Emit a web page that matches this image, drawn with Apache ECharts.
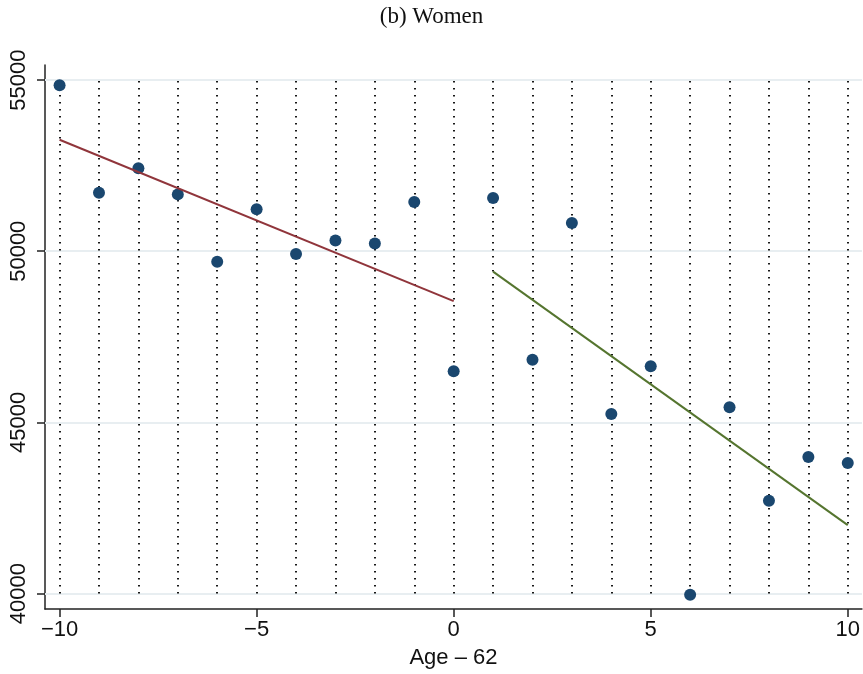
<!DOCTYPE html>
<html>
<head>
<meta charset="utf-8">
<script src="https://cdn.jsdelivr.net/npm/echarts@6/dist/echarts.min.js"></script>
<style>
html,body{margin:0;padding:0;background:#fff;}
#chart{width:863px;height:674px;}
</style>
</head>
<body>
<div id="chart"></div>
<script>
// Data
var ages = [-10,-9,-8,-7,-6,-5,-4,-3,-2,-1,0,1,2,3,4,5,6,7,8,9,10];
var earnings = [54846,51710,52425,51661,49695,51225,49919,50317,50229,51437,46492,51553,46832,50825,45244,46638,39968,45441,42709,43987,43812];
var fitLeftX = [-10, 0];
var fitLeftY = [53258, 48545];
var fitRightX = [1, 10];
var fitRightY = [49405, 42000];
var xTicks = [-10,-5,0,5,10];
var yTicks = [40000,45000,50000,55000];
var refLinesX = ages;
var refRange = [40000, 55000];
var titleText = '(b) Women';
var xTitle = 'Age \u2013 62';

var scatterData = ages.map(function(a,i){return [a, earnings[i]];});
var leftFit = fitLeftX.map(function(a,i){return [a, fitLeftY[i]];});
var rightFit = fitRightX.map(function(a,i){return [a, fitRightY[i]];});
var vlines = refLinesX.map(function(a){return {coords:[[a, refRange[0]],[a, refRange[1]]]};});
var xmin = -10.37, xmax = 10.36;
var hlines = yTicks.map(function(v){return {coords:[[xmin, v],[xmax, v]]};});

var chart = echarts.init(document.getElementById('chart'), null, {renderer:'canvas'});
chart.setOption({
  animation:false,
  backgroundColor:'#ffffff',
  title:{text:titleText,left:'center',top:0,
    textStyle:{fontFamily:'Liberation Serif',fontWeight:'normal',fontSize:23,color:'#111'}},
  grid:{left:45,right:0,top:65,bottom:62,containLabel:false},
  xAxis:{type:'value',min:xmin,max:xmax,
    name:xTitle,nameLocation:'middle',nameGap:38,
    nameTextStyle:{fontFamily:'Liberation Sans',fontSize:22,color:'#111'},
    axisLine:{show:true,onZero:false,lineStyle:{color:'#222',width:1.5}},
    axisTick:{show:true,length:8,customValues:xTicks,lineStyle:{color:'#222',width:1.5}},
    axisLabel:{show:true,margin:10,customValues:xTicks,fontFamily:'Liberation Sans',fontSize:22,color:'#111',
      formatter:function(v){return v<0?'\u2212'+Math.abs(v):String(v);}},
    splitLine:{show:false}},
  yAxis:{type:'value',min:39550,max:55440,
    axisLine:{show:true,onZero:false,lineStyle:{color:'#222',width:1.5}},
    axisTick:{show:true,length:8,customValues:yTicks,lineStyle:{color:'#222',width:1.5}},
    axisLabel:{show:true,rotate:90,margin:15,customValues:yTicks,fontFamily:'Liberation Sans',fontSize:22,color:'#111',
      formatter:function(v){return String(v);}},
    splitLine:{show:false}},
  series:[
    {type:'lines',coordinateSystem:'cartesian2d',silent:true,z:1,
      data:hlines,lineStyle:{color:'#e8eef1',width:2,opacity:1}},
    {type:'lines',coordinateSystem:'cartesian2d',silent:true,z:2,
      data:vlines,lineStyle:{color:'#000',width:1.8,type:[1.6,5.4],opacity:1}},
    {type:'scatter',data:scatterData,symbol:'circle',symbolSize:12,z:3,
      itemStyle:{color:'#1a476f',opacity:1}},
    {type:'line',data:leftFit,symbol:'none',z:4,lineStyle:{color:'#90353b',width:2}},
    {type:'line',data:rightFit,symbol:'none',z:4,lineStyle:{color:'#55752f',width:2}}
  ]
});
</script>
</body>
</html>
